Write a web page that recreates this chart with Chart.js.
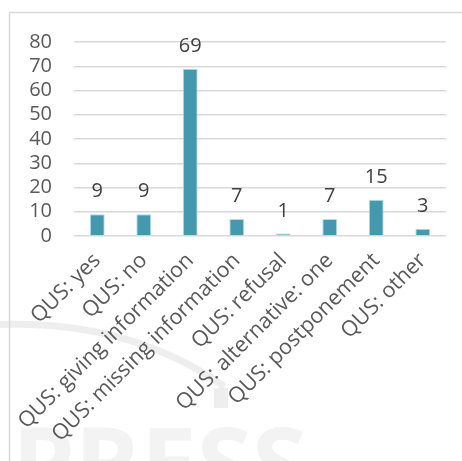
<!DOCTYPE html>
<html>
<head>
<meta charset="utf-8">
<script src="https://cdn.jsdelivr.net/npm/chart.js@4/dist/chart.umd.min.js"></script>
<style>
  html, body { margin: 0; padding: 0; background: #ffffff; }
  #wrap { width: 462px; height: 461px; position: relative; }
</style>
</head>
<body>
<div id="wrap"><canvas id="c" width="462" height="461"></canvas></div>
<script>
// Response categories and their counts
const categories = [
  'QUS: yes',
  'QUS: no',
  'QUS: giving information',
  'QUS: missing information',
  'QUS: refusal',
  'QUS: alternative: one',
  'QUS: postponement',
  'QUS: other'
];
const counts = [9, 9, 69, 7, 1, 7, 15, 3];
const yTicks = [0, 10, 20, 30, 40, 50, 60, 70, 80];

const FONT = '"Open Sans", "Noto Sans", sans-serif';

// Frame lines along the top and left edge, plus the faint publisher mark behind the plot
const backdrop = {
  id: 'backdrop',
  beforeDraw(chart) {
    const ctx = chart.ctx;
    ctx.save();
    ctx.fillStyle = '#ffffff';
    ctx.fillRect(0, 0, chart.width, chart.height);

    // faint swoosh
    ctx.strokeStyle = 'rgba(205,205,205,0.35)';
    ctx.lineWidth = 7;
    ctx.lineCap = 'round';
    ctx.beginPath();
    ctx.moveTo(-10, 325);
    ctx.quadraticCurveTo(125, 318, 222, 385);
    ctx.stroke();
    ctx.fillStyle = 'rgba(205,205,205,0.35)';
    ctx.fillRect(214, 388, 14, 20);

    // faint large lettering, cut off by the bottom edge
    ctx.fillStyle = 'rgba(235,235,235,0.6)';
    ctx.font = 'bold 100px ' + FONT;
    ctx.textBaseline = 'alphabetic';
    ctx.textAlign = 'left';
    ctx.fillText('PRESS', 12, 500);

    // frame
    ctx.strokeStyle = '#d9d9d9';
    ctx.lineWidth = 1.5;
    ctx.beginPath();
    ctx.moveTo(9.5, chart.height + 2);
    ctx.lineTo(9.5, 12.5);
    ctx.lineTo(chart.width + 2, 12.5);
    ctx.stroke();
    ctx.restore();
  }
};

// Value written above each bar
const valueLabels = {
  id: 'valueLabels',
  afterDatasetsDraw(chart) {
    const ctx = chart.ctx;
    const meta = chart.getDatasetMeta(0);
    ctx.save();
    ctx.fillStyle = '#404040';
    ctx.font = '20px ' + FONT;
    ctx.textAlign = 'center';
    ctx.textBaseline = 'alphabetic';
    meta.data.forEach((bar, i) => {
      ctx.fillText(String(counts[i]), bar.x, bar.y - 17);
    });
    ctx.restore();
  }
};

new Chart(document.getElementById('c'), {
  type: 'bar',
  data: {
    labels: categories,
    datasets: [{
      data: counts,
      backgroundColor: '#4599af',
      borderColor: '#b9dae3',
      borderWidth: 1,
      barPercentage: 0.32,
      categoryPercentage: 1.0
    }]
  },
  options: {
    responsive: false,
    animation: false,
    devicePixelRatio: 1,
    layout: { padding: { top: 42, right: 16, bottom: 0, left: 0 } },
    plugins: {
      legend: { display: false },
      tooltip: { enabled: false }
    },
    scales: {
      x: {
        grid: { display: false, drawTicks: false },
        border: { display: false },
        ticks: {
          color: '#595959',
          font: { family: FONT, size: 21.5 },
          maxRotation: 45,
          minRotation: 45,
          autoSkip: false,
          padding: 12
        },
        afterFit(scale) { scale.height = 225; }
      },
      y: {
        min: 0,
        max: 80,
        afterBuildTicks(scale) { scale.ticks = yTicks.map(v => ({ value: v })); },
        grid: { color: '#d9d9d9', lineWidth: 1.5, drawTicks: false },
        border: { display: false },
        ticks: {
          color: '#595959',
          font: { family: FONT, size: 20 },
          autoSkip: false,
          padding: 22
        },
        afterFit(scale) { scale.width = 74; }
      }
    }
  },
  plugins: [backdrop, valueLabels]
});
</script>
</body>
</html>
